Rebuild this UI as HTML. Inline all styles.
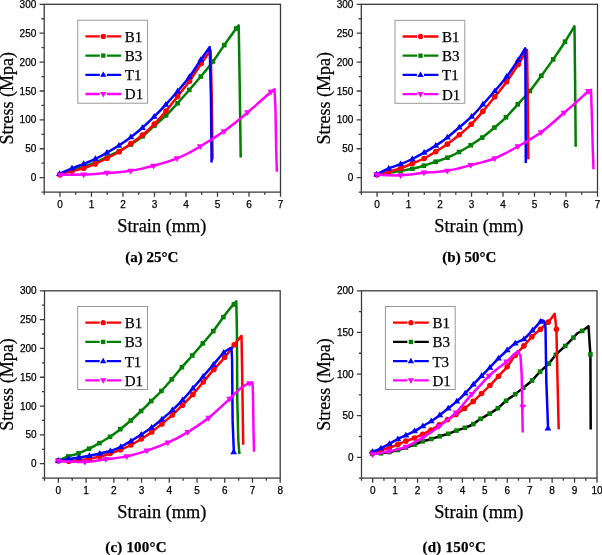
<!DOCTYPE html>
<html><head><meta charset="utf-8"><style>
html,body{margin:0;padding:0;background:#fff;}
svg{display:block;will-change:transform;}
text{stroke:#000;stroke-width:0.25px;}
</style></head><body>
<svg width="602" height="555" viewBox="0 0 602 555">
<rect width="602" height="555" fill="#fff"/>
<rect x="44.2" y="4.3" width="236.30" height="187.80" fill="none" stroke="#3c3c3c" stroke-width="1.3"/>
<path d="M44.20 192.10v2.6 M59.95 192.10v4.6 M75.71 192.10v2.6 M91.46 192.10v4.6 M107.21 192.10v2.6 M122.97 192.10v4.6 M138.72 192.10v2.6 M154.47 192.10v4.6 M170.23 192.10v2.6 M185.98 192.10v4.6 M201.73 192.10v2.6 M217.49 192.10v4.6 M233.24 192.10v2.6 M248.99 192.10v4.6 M264.75 192.10v2.6 M280.50 192.10v4.6 M44.20 192.10h-2.6 M44.20 177.65h-4.6 M44.20 163.21h-2.6 M44.20 148.76h-4.6 M44.20 134.32h-2.6 M44.20 119.87h-4.6 M44.20 105.42h-2.6 M44.20 90.98h-4.6 M44.20 76.53h-2.6 M44.20 62.08h-4.6 M44.20 47.64h-2.6 M44.20 33.19h-4.6 M44.20 18.75h-2.6 M44.20 4.30h-4.6" stroke="#3c3c3c" stroke-width="1.3" fill="none"/>
<text x="59.95" y="207.70" font-family='"Liberation Sans", sans-serif' font-size="10" text-anchor="middle">0</text>
<text x="91.46" y="207.70" font-family='"Liberation Sans", sans-serif' font-size="10" text-anchor="middle">1</text>
<text x="122.97" y="207.70" font-family='"Liberation Sans", sans-serif' font-size="10" text-anchor="middle">2</text>
<text x="154.47" y="207.70" font-family='"Liberation Sans", sans-serif' font-size="10" text-anchor="middle">3</text>
<text x="185.98" y="207.70" font-family='"Liberation Sans", sans-serif' font-size="10" text-anchor="middle">4</text>
<text x="217.49" y="207.70" font-family='"Liberation Sans", sans-serif' font-size="10" text-anchor="middle">5</text>
<text x="248.99" y="207.70" font-family='"Liberation Sans", sans-serif' font-size="10" text-anchor="middle">6</text>
<text x="280.50" y="207.70" font-family='"Liberation Sans", sans-serif' font-size="10" text-anchor="middle">7</text>
<text x="36.30" y="181.25" font-family='"Liberation Sans", sans-serif' font-size="10" text-anchor="end">0</text>
<text x="36.30" y="152.36" font-family='"Liberation Sans", sans-serif' font-size="10" text-anchor="end">50</text>
<text x="36.30" y="123.47" font-family='"Liberation Sans", sans-serif' font-size="10" text-anchor="end">100</text>
<text x="36.30" y="94.58" font-family='"Liberation Sans", sans-serif' font-size="10" text-anchor="end">150</text>
<text x="36.30" y="65.68" font-family='"Liberation Sans", sans-serif' font-size="10" text-anchor="end">200</text>
<text x="36.30" y="36.79" font-family='"Liberation Sans", sans-serif' font-size="10" text-anchor="end">250</text>
<text x="36.30" y="7.90" font-family='"Liberation Sans", sans-serif' font-size="10" text-anchor="end">300</text>
<rect x="361.3" y="4.3" width="236.20" height="187.80" fill="none" stroke="#3c3c3c" stroke-width="1.3"/>
<path d="M361.30 192.10v2.6 M377.05 192.10v4.6 M392.79 192.10v2.6 M408.54 192.10v4.6 M424.29 192.10v2.6 M440.03 192.10v4.6 M455.78 192.10v2.6 M471.53 192.10v4.6 M487.27 192.10v2.6 M503.02 192.10v4.6 M518.77 192.10v2.6 M534.51 192.10v4.6 M550.26 192.10v2.6 M566.01 192.10v4.6 M581.75 192.10v2.6 M597.50 192.10v4.6 M361.30 192.10h-2.6 M361.30 177.65h-4.6 M361.30 163.21h-2.6 M361.30 148.76h-4.6 M361.30 134.32h-2.6 M361.30 119.87h-4.6 M361.30 105.42h-2.6 M361.30 90.98h-4.6 M361.30 76.53h-2.6 M361.30 62.08h-4.6 M361.30 47.64h-2.6 M361.30 33.19h-4.6 M361.30 18.75h-2.6 M361.30 4.30h-4.6" stroke="#3c3c3c" stroke-width="1.3" fill="none"/>
<text x="377.05" y="207.70" font-family='"Liberation Sans", sans-serif' font-size="10" text-anchor="middle">0</text>
<text x="408.54" y="207.70" font-family='"Liberation Sans", sans-serif' font-size="10" text-anchor="middle">1</text>
<text x="440.03" y="207.70" font-family='"Liberation Sans", sans-serif' font-size="10" text-anchor="middle">2</text>
<text x="471.53" y="207.70" font-family='"Liberation Sans", sans-serif' font-size="10" text-anchor="middle">3</text>
<text x="503.02" y="207.70" font-family='"Liberation Sans", sans-serif' font-size="10" text-anchor="middle">4</text>
<text x="534.51" y="207.70" font-family='"Liberation Sans", sans-serif' font-size="10" text-anchor="middle">5</text>
<text x="566.01" y="207.70" font-family='"Liberation Sans", sans-serif' font-size="10" text-anchor="middle">6</text>
<text x="597.50" y="207.70" font-family='"Liberation Sans", sans-serif' font-size="10" text-anchor="middle">7</text>
<text x="353.40" y="181.25" font-family='"Liberation Sans", sans-serif' font-size="10" text-anchor="end">0</text>
<text x="353.40" y="152.36" font-family='"Liberation Sans", sans-serif' font-size="10" text-anchor="end">50</text>
<text x="353.40" y="123.47" font-family='"Liberation Sans", sans-serif' font-size="10" text-anchor="end">100</text>
<text x="353.40" y="94.58" font-family='"Liberation Sans", sans-serif' font-size="10" text-anchor="end">150</text>
<text x="353.40" y="65.68" font-family='"Liberation Sans", sans-serif' font-size="10" text-anchor="end">200</text>
<text x="353.40" y="36.79" font-family='"Liberation Sans", sans-serif' font-size="10" text-anchor="end">250</text>
<text x="353.40" y="7.90" font-family='"Liberation Sans", sans-serif' font-size="10" text-anchor="end">300</text>
<rect x="44.5" y="290.8" width="235.70" height="187.30" fill="none" stroke="#3c3c3c" stroke-width="1.3"/>
<path d="M44.50 478.10v2.6 M58.36 478.10v4.6 M72.23 478.10v2.6 M86.09 478.10v4.6 M99.96 478.10v2.6 M113.82 478.10v4.6 M127.69 478.10v2.6 M141.55 478.10v4.6 M155.42 478.10v2.6 M169.28 478.10v4.6 M183.15 478.10v2.6 M197.01 478.10v4.6 M210.88 478.10v2.6 M224.74 478.10v4.6 M238.61 478.10v2.6 M252.47 478.10v4.6 M266.34 478.10v2.6 M280.20 478.10v4.6 M44.50 478.10h-2.6 M44.50 463.69h-4.6 M44.50 449.28h-2.6 M44.50 434.88h-4.6 M44.50 420.47h-2.6 M44.50 406.06h-4.6 M44.50 391.65h-2.6 M44.50 377.25h-4.6 M44.50 362.84h-2.6 M44.50 348.43h-4.6 M44.50 334.02h-2.6 M44.50 319.62h-4.6 M44.50 305.21h-2.6 M44.50 290.80h-4.6" stroke="#3c3c3c" stroke-width="1.3" fill="none"/>
<text x="58.36" y="493.70" font-family='"Liberation Sans", sans-serif' font-size="10" text-anchor="middle">0</text>
<text x="86.09" y="493.70" font-family='"Liberation Sans", sans-serif' font-size="10" text-anchor="middle">1</text>
<text x="113.82" y="493.70" font-family='"Liberation Sans", sans-serif' font-size="10" text-anchor="middle">2</text>
<text x="141.55" y="493.70" font-family='"Liberation Sans", sans-serif' font-size="10" text-anchor="middle">3</text>
<text x="169.28" y="493.70" font-family='"Liberation Sans", sans-serif' font-size="10" text-anchor="middle">4</text>
<text x="197.01" y="493.70" font-family='"Liberation Sans", sans-serif' font-size="10" text-anchor="middle">5</text>
<text x="224.74" y="493.70" font-family='"Liberation Sans", sans-serif' font-size="10" text-anchor="middle">6</text>
<text x="252.47" y="493.70" font-family='"Liberation Sans", sans-serif' font-size="10" text-anchor="middle">7</text>
<text x="280.20" y="493.70" font-family='"Liberation Sans", sans-serif' font-size="10" text-anchor="middle">8</text>
<text x="36.60" y="467.29" font-family='"Liberation Sans", sans-serif' font-size="10" text-anchor="end">0</text>
<text x="36.60" y="438.48" font-family='"Liberation Sans", sans-serif' font-size="10" text-anchor="end">50</text>
<text x="36.60" y="409.66" font-family='"Liberation Sans", sans-serif' font-size="10" text-anchor="end">100</text>
<text x="36.60" y="380.85" font-family='"Liberation Sans", sans-serif' font-size="10" text-anchor="end">150</text>
<text x="36.60" y="352.03" font-family='"Liberation Sans", sans-serif' font-size="10" text-anchor="end">200</text>
<text x="36.60" y="323.22" font-family='"Liberation Sans", sans-serif' font-size="10" text-anchor="end">250</text>
<text x="36.60" y="294.40" font-family='"Liberation Sans", sans-serif' font-size="10" text-anchor="end">300</text>
<rect x="361.5" y="290.8" width="235.50" height="187.30" fill="none" stroke="#3c3c3c" stroke-width="1.3"/>
<path d="M361.50 478.10v2.6 M372.71 478.10v4.6 M383.93 478.10v2.6 M395.14 478.10v4.6 M406.36 478.10v2.6 M417.57 478.10v4.6 M428.79 478.10v2.6 M440.00 478.10v4.6 M451.21 478.10v2.6 M462.43 478.10v4.6 M473.64 478.10v2.6 M484.86 478.10v4.6 M496.07 478.10v2.6 M507.29 478.10v4.6 M518.50 478.10v2.6 M529.71 478.10v4.6 M540.93 478.10v2.6 M552.14 478.10v4.6 M563.36 478.10v2.6 M574.57 478.10v4.6 M585.79 478.10v2.6 M597.00 478.10v4.6 M361.50 478.10h-2.6 M361.50 457.29h-4.6 M361.50 436.48h-2.6 M361.50 415.67h-4.6 M361.50 394.86h-2.6 M361.50 374.04h-4.6 M361.50 353.23h-2.6 M361.50 332.42h-4.6 M361.50 311.61h-2.6 M361.50 290.80h-4.6" stroke="#3c3c3c" stroke-width="1.3" fill="none"/>
<text x="372.71" y="493.70" font-family='"Liberation Sans", sans-serif' font-size="10" text-anchor="middle">0</text>
<text x="395.14" y="493.70" font-family='"Liberation Sans", sans-serif' font-size="10" text-anchor="middle">1</text>
<text x="417.57" y="493.70" font-family='"Liberation Sans", sans-serif' font-size="10" text-anchor="middle">2</text>
<text x="440.00" y="493.70" font-family='"Liberation Sans", sans-serif' font-size="10" text-anchor="middle">3</text>
<text x="462.43" y="493.70" font-family='"Liberation Sans", sans-serif' font-size="10" text-anchor="middle">4</text>
<text x="484.86" y="493.70" font-family='"Liberation Sans", sans-serif' font-size="10" text-anchor="middle">5</text>
<text x="507.29" y="493.70" font-family='"Liberation Sans", sans-serif' font-size="10" text-anchor="middle">6</text>
<text x="529.71" y="493.70" font-family='"Liberation Sans", sans-serif' font-size="10" text-anchor="middle">7</text>
<text x="552.14" y="493.70" font-family='"Liberation Sans", sans-serif' font-size="10" text-anchor="middle">8</text>
<text x="574.57" y="493.70" font-family='"Liberation Sans", sans-serif' font-size="10" text-anchor="middle">9</text>
<text x="597.00" y="493.70" font-family='"Liberation Sans", sans-serif' font-size="10" text-anchor="middle">10</text>
<text x="353.60" y="460.89" font-family='"Liberation Sans", sans-serif' font-size="10" text-anchor="end">0</text>
<text x="353.60" y="419.27" font-family='"Liberation Sans", sans-serif' font-size="10" text-anchor="end">50</text>
<text x="353.60" y="377.64" font-family='"Liberation Sans", sans-serif' font-size="10" text-anchor="end">100</text>
<text x="353.60" y="336.02" font-family='"Liberation Sans", sans-serif' font-size="10" text-anchor="end">150</text>
<text x="353.60" y="294.40" font-family='"Liberation Sans", sans-serif' font-size="10" text-anchor="end">200</text>
<path d="M60.00 174.30C62.00 173.63 68.05 171.57 72.00 170.30C75.95 169.03 79.80 168.03 83.70 166.70C87.60 165.37 91.52 163.92 95.40 162.30C99.28 160.68 103.07 158.85 107.00 157.00C110.93 155.15 115.02 153.28 119.00 151.20C122.98 149.12 126.97 146.98 130.90 144.50C134.83 142.02 138.68 139.45 142.60 136.30C146.52 133.15 150.48 129.08 154.40 125.60C158.32 122.12 162.23 119.13 166.10 115.40C169.97 111.67 173.73 107.45 177.60 103.20C181.47 98.95 185.43 94.35 189.30 89.90C193.17 85.45 196.85 81.23 200.80 76.50C204.75 71.77 209.08 66.73 213.00 61.50C216.92 56.27 220.43 50.58 224.30 45.10C228.17 39.62 233.80 31.88 236.20 28.60C238.60 25.32 238.28 25.93 238.70 25.40L239.80 90.00L240.70 157.40" fill="none" stroke="#008000" stroke-width="2.5" stroke-linejoin="round" stroke-linecap="butt"/>
<rect x="57.70" y="172.00" width="4.60" height="4.60" fill="#008000"/>
<rect x="69.70" y="168.00" width="4.60" height="4.60" fill="#008000"/>
<rect x="81.40" y="164.40" width="4.60" height="4.60" fill="#008000"/>
<rect x="93.10" y="160.00" width="4.60" height="4.60" fill="#008000"/>
<rect x="104.70" y="154.70" width="4.60" height="4.60" fill="#008000"/>
<rect x="116.70" y="148.90" width="4.60" height="4.60" fill="#008000"/>
<rect x="128.60" y="142.20" width="4.60" height="4.60" fill="#008000"/>
<rect x="140.30" y="134.00" width="4.60" height="4.60" fill="#008000"/>
<rect x="152.10" y="123.30" width="4.60" height="4.60" fill="#008000"/>
<rect x="163.80" y="113.10" width="4.60" height="4.60" fill="#008000"/>
<rect x="175.30" y="100.90" width="4.60" height="4.60" fill="#008000"/>
<rect x="187.00" y="87.60" width="4.60" height="4.60" fill="#008000"/>
<rect x="198.50" y="74.20" width="4.60" height="4.60" fill="#008000"/>
<rect x="210.70" y="59.20" width="4.60" height="4.60" fill="#008000"/>
<rect x="222.00" y="42.80" width="4.60" height="4.60" fill="#008000"/>
<rect x="233.90" y="26.30" width="4.60" height="4.60" fill="#008000"/>
<path d="M60.00 174.70C62.00 174.10 68.05 172.18 72.00 171.10C75.95 170.02 79.80 169.40 83.70 168.20C87.60 167.00 91.52 165.57 95.40 163.90C99.28 162.23 103.03 160.23 107.00 158.20C110.97 156.17 115.22 154.13 119.20 151.70C123.18 149.27 127.02 146.38 130.90 143.60C134.78 140.82 138.60 138.25 142.50 135.00C146.40 131.75 150.38 128.08 154.30 124.10C158.22 120.12 162.12 115.72 166.00 111.10C169.88 106.48 173.67 101.40 177.60 96.40C181.53 91.40 185.65 86.58 189.60 81.10C193.55 75.62 197.78 68.60 201.30 63.50C204.82 58.40 209.13 52.67 210.70 50.50L211.80 100.00L212.60 159.50" fill="none" stroke="#ff0000" stroke-width="2.5" stroke-linejoin="round" stroke-linecap="butt"/>
<circle cx="60.00" cy="174.70" r="2.80" fill="#ff0000"/>
<circle cx="72.00" cy="171.10" r="2.80" fill="#ff0000"/>
<circle cx="83.70" cy="168.20" r="2.80" fill="#ff0000"/>
<circle cx="95.40" cy="163.90" r="2.80" fill="#ff0000"/>
<circle cx="107.00" cy="158.20" r="2.80" fill="#ff0000"/>
<circle cx="119.20" cy="151.70" r="2.80" fill="#ff0000"/>
<circle cx="130.90" cy="143.60" r="2.80" fill="#ff0000"/>
<circle cx="142.50" cy="135.00" r="2.80" fill="#ff0000"/>
<circle cx="154.30" cy="124.10" r="2.80" fill="#ff0000"/>
<circle cx="166.00" cy="111.10" r="2.80" fill="#ff0000"/>
<circle cx="177.60" cy="96.40" r="2.80" fill="#ff0000"/>
<circle cx="189.60" cy="81.10" r="2.80" fill="#ff0000"/>
<circle cx="201.30" cy="63.50" r="2.80" fill="#ff0000"/>
<path d="M59.50 173.90C61.58 172.98 67.97 170.07 72.00 168.40C76.03 166.73 79.80 165.48 83.70 163.90C87.60 162.32 91.52 160.78 95.40 158.90C99.28 157.02 103.08 154.83 107.00 152.60C110.92 150.37 114.93 148.07 118.90 145.50C122.87 142.93 126.88 140.15 130.80 137.20C134.72 134.25 138.50 131.22 142.40 127.80C146.30 124.38 150.30 120.55 154.20 116.70C158.10 112.85 161.90 108.93 165.80 104.70C169.70 100.47 173.65 95.95 177.60 91.30C181.55 86.65 185.63 82.05 189.50 76.80C193.37 71.55 197.43 64.77 200.80 59.80C204.17 54.83 208.22 49.13 209.70 47.00L211.00 100.00L211.60 162.40" fill="none" stroke="#0000ff" stroke-width="2.5" stroke-linejoin="round" stroke-linecap="butt"/>
<path d="M59.50 170.30L62.92 176.06L56.08 176.06Z" fill="#0000ff"/>
<path d="M72.00 164.80L75.42 170.56L68.58 170.56Z" fill="#0000ff"/>
<path d="M83.70 160.30L87.12 166.06L80.28 166.06Z" fill="#0000ff"/>
<path d="M95.40 155.30L98.82 161.06L91.98 161.06Z" fill="#0000ff"/>
<path d="M107.00 149.00L110.42 154.76L103.58 154.76Z" fill="#0000ff"/>
<path d="M118.90 141.90L122.32 147.66L115.48 147.66Z" fill="#0000ff"/>
<path d="M130.80 133.60L134.22 139.36L127.38 139.36Z" fill="#0000ff"/>
<path d="M142.40 124.20L145.82 129.96L138.98 129.96Z" fill="#0000ff"/>
<path d="M154.20 113.10L157.62 118.86L150.78 118.86Z" fill="#0000ff"/>
<path d="M165.80 101.10L169.22 106.86L162.38 106.86Z" fill="#0000ff"/>
<path d="M177.60 87.70L181.02 93.46L174.18 93.46Z" fill="#0000ff"/>
<path d="M189.50 73.20L192.92 78.96L186.08 78.96Z" fill="#0000ff"/>
<path d="M200.80 56.20L204.22 61.96L197.38 61.96Z" fill="#0000ff"/>
<path d="M60.00 174.80C62.00 174.80 68.05 174.83 72.00 174.80C75.95 174.77 79.80 174.75 83.70 174.60C87.60 174.45 91.52 174.17 95.40 173.90C99.28 173.63 103.10 173.28 107.00 173.00C110.90 172.72 114.85 172.57 118.80 172.20C122.75 171.83 126.80 171.40 130.70 170.80C134.60 170.20 138.38 169.43 142.20 168.60C146.02 167.77 149.72 166.83 153.60 165.80C157.48 164.77 161.60 163.65 165.50 162.40C169.40 161.15 173.12 159.87 177.00 158.30C180.88 156.73 184.92 155.00 188.80 153.00C192.68 151.00 196.40 148.63 200.30 146.30C204.20 143.97 208.25 141.50 212.20 139.00C216.15 136.50 220.07 134.08 224.00 131.30C227.93 128.52 231.88 125.43 235.80 122.30C239.72 119.17 243.60 115.83 247.50 112.50C251.40 109.17 255.30 105.72 259.20 102.30C263.10 98.88 268.35 94.17 270.90 92.00C273.45 89.83 273.90 89.75 274.50 89.30L275.50 110.00L276.20 150.00L276.90 171.80" fill="none" stroke="#ff00ff" stroke-width="2.5" stroke-linejoin="round" stroke-linecap="butt"/>
<path d="M60.00 178.40L63.42 172.64L56.58 172.64Z" fill="#ff00ff"/>
<path d="M83.70 178.20L87.12 172.44L80.28 172.44Z" fill="#ff00ff"/>
<path d="M107.00 176.60L110.42 170.84L103.58 170.84Z" fill="#ff00ff"/>
<path d="M130.70 174.40L134.12 168.64L127.28 168.64Z" fill="#ff00ff"/>
<path d="M153.60 169.40L157.02 163.64L150.18 163.64Z" fill="#ff00ff"/>
<path d="M177.00 161.90L180.42 156.14L173.58 156.14Z" fill="#ff00ff"/>
<path d="M200.30 149.90L203.72 144.14L196.88 144.14Z" fill="#ff00ff"/>
<path d="M224.00 134.90L227.42 129.14L220.58 129.14Z" fill="#ff00ff"/>
<path d="M247.50 116.10L250.92 110.34L244.08 110.34Z" fill="#ff00ff"/>
<path d="M270.90 95.60L274.32 89.84L267.48 89.84Z" fill="#ff00ff"/>
<path d="M376.70 174.50C378.70 174.25 384.72 173.58 388.70 173.00C392.68 172.42 396.67 171.70 400.60 171.00C404.53 170.30 408.42 169.68 412.30 168.80C416.18 167.92 419.98 166.88 423.90 165.70C427.82 164.52 431.88 163.03 435.80 161.70C439.72 160.37 443.53 159.32 447.40 157.70C451.27 156.08 455.12 154.08 459.00 152.00C462.88 149.92 466.83 147.60 470.70 145.20C474.57 142.80 478.25 140.53 482.20 137.60C486.15 134.67 490.43 130.98 494.40 127.60C498.37 124.22 502.10 121.18 506.00 117.30C509.90 113.42 513.82 108.68 517.80 104.30C521.78 99.92 525.98 95.75 529.90 91.00C533.82 86.25 537.42 81.07 541.30 75.80C545.18 70.53 549.25 65.08 553.20 59.40C557.15 53.72 561.45 47.23 565.00 41.70C568.55 36.17 572.92 28.78 574.50 26.20L575.20 90.00L575.70 146.70" fill="none" stroke="#008000" stroke-width="2.5" stroke-linejoin="round" stroke-linecap="butt"/>
<rect x="374.40" y="172.20" width="4.60" height="4.60" fill="#008000"/>
<rect x="386.40" y="170.70" width="4.60" height="4.60" fill="#008000"/>
<rect x="398.30" y="168.70" width="4.60" height="4.60" fill="#008000"/>
<rect x="410.00" y="166.50" width="4.60" height="4.60" fill="#008000"/>
<rect x="421.60" y="163.40" width="4.60" height="4.60" fill="#008000"/>
<rect x="433.50" y="159.40" width="4.60" height="4.60" fill="#008000"/>
<rect x="445.10" y="155.40" width="4.60" height="4.60" fill="#008000"/>
<rect x="456.70" y="149.70" width="4.60" height="4.60" fill="#008000"/>
<rect x="468.40" y="142.90" width="4.60" height="4.60" fill="#008000"/>
<rect x="479.90" y="135.30" width="4.60" height="4.60" fill="#008000"/>
<rect x="492.10" y="125.30" width="4.60" height="4.60" fill="#008000"/>
<rect x="503.70" y="115.00" width="4.60" height="4.60" fill="#008000"/>
<rect x="515.50" y="102.00" width="4.60" height="4.60" fill="#008000"/>
<rect x="527.60" y="88.70" width="4.60" height="4.60" fill="#008000"/>
<rect x="539.00" y="73.50" width="4.60" height="4.60" fill="#008000"/>
<rect x="550.90" y="57.10" width="4.60" height="4.60" fill="#008000"/>
<rect x="562.70" y="39.40" width="4.60" height="4.60" fill="#008000"/>
<path d="M376.70 174.70C378.70 174.20 384.72 172.77 388.70 171.70C392.68 170.63 396.67 169.67 400.60 168.30C404.53 166.93 408.38 165.13 412.30 163.50C416.22 161.87 420.18 160.48 424.10 158.50C428.02 156.52 431.92 154.00 435.80 151.60C439.68 149.20 443.47 146.90 447.40 144.10C451.33 141.30 455.43 138.10 459.40 134.80C463.37 131.50 467.28 128.22 471.20 124.30C475.12 120.38 478.97 115.88 482.90 111.30C486.83 106.72 490.83 101.73 494.80 96.80C498.77 91.87 502.80 87.10 506.70 81.70C510.60 76.30 514.82 69.68 518.20 64.40C521.58 59.12 525.53 52.40 527.00 50.00L527.80 100.00L528.30 159.30" fill="none" stroke="#ff0000" stroke-width="2.5" stroke-linejoin="round" stroke-linecap="butt"/>
<circle cx="376.70" cy="174.70" r="2.80" fill="#ff0000"/>
<circle cx="388.70" cy="171.70" r="2.80" fill="#ff0000"/>
<circle cx="400.60" cy="168.30" r="2.80" fill="#ff0000"/>
<circle cx="412.30" cy="163.50" r="2.80" fill="#ff0000"/>
<circle cx="424.10" cy="158.50" r="2.80" fill="#ff0000"/>
<circle cx="435.80" cy="151.60" r="2.80" fill="#ff0000"/>
<circle cx="447.40" cy="144.10" r="2.80" fill="#ff0000"/>
<circle cx="459.40" cy="134.80" r="2.80" fill="#ff0000"/>
<circle cx="471.20" cy="124.30" r="2.80" fill="#ff0000"/>
<circle cx="482.90" cy="111.30" r="2.80" fill="#ff0000"/>
<circle cx="494.80" cy="96.80" r="2.80" fill="#ff0000"/>
<circle cx="506.70" cy="81.70" r="2.80" fill="#ff0000"/>
<circle cx="518.20" cy="64.40" r="2.80" fill="#ff0000"/>
<path d="M376.70 174.30C378.70 173.33 384.72 170.18 388.70 168.50C392.68 166.82 396.67 165.78 400.60 164.20C404.53 162.62 408.38 160.92 412.30 159.00C416.22 157.08 420.18 154.93 424.10 152.70C428.02 150.47 431.92 148.15 435.80 145.60C439.68 143.05 443.48 140.43 447.40 137.40C451.32 134.37 455.27 130.85 459.30 127.40C463.33 123.95 467.67 120.53 471.60 116.70C475.53 112.87 479.03 108.68 482.90 104.40C486.77 100.12 490.83 95.62 494.80 91.00C498.77 86.38 502.80 81.87 506.70 76.70C510.60 71.53 515.10 64.75 518.20 60.00C521.30 55.25 524.12 50.17 525.30 48.20L525.60 100.00L525.80 162.90" fill="none" stroke="#0000ff" stroke-width="2.5" stroke-linejoin="round" stroke-linecap="butt"/>
<path d="M376.70 170.70L380.12 176.46L373.28 176.46Z" fill="#0000ff"/>
<path d="M388.70 164.90L392.12 170.66L385.28 170.66Z" fill="#0000ff"/>
<path d="M400.60 160.60L404.02 166.36L397.18 166.36Z" fill="#0000ff"/>
<path d="M412.30 155.40L415.72 161.16L408.88 161.16Z" fill="#0000ff"/>
<path d="M424.10 149.10L427.52 154.86L420.68 154.86Z" fill="#0000ff"/>
<path d="M435.80 142.00L439.22 147.76L432.38 147.76Z" fill="#0000ff"/>
<path d="M447.40 133.80L450.82 139.56L443.98 139.56Z" fill="#0000ff"/>
<path d="M459.30 123.80L462.72 129.56L455.88 129.56Z" fill="#0000ff"/>
<path d="M471.60 113.10L475.02 118.86L468.18 118.86Z" fill="#0000ff"/>
<path d="M482.90 100.80L486.32 106.56L479.48 106.56Z" fill="#0000ff"/>
<path d="M494.80 87.40L498.22 93.16L491.38 93.16Z" fill="#0000ff"/>
<path d="M506.70 73.10L510.12 78.86L503.28 78.86Z" fill="#0000ff"/>
<path d="M518.20 56.40L521.62 62.16L514.78 62.16Z" fill="#0000ff"/>
<path d="M376.70 174.70C378.70 174.80 384.72 175.20 388.70 175.30C392.68 175.40 396.67 175.48 400.60 175.30C404.53 175.12 408.42 174.63 412.30 174.20C416.18 173.77 420.02 173.08 423.90 172.70C427.78 172.32 431.68 172.22 435.60 171.90C439.52 171.58 443.50 171.40 447.40 170.80C451.30 170.20 455.12 169.23 459.00 168.30C462.88 167.37 466.75 166.23 470.70 165.20C474.65 164.17 478.68 163.22 482.70 162.10C486.72 160.98 490.87 160.05 494.80 158.50C498.73 156.95 502.45 154.80 506.30 152.80C510.15 150.80 514.03 148.68 517.90 146.50C521.77 144.32 525.63 142.07 529.50 139.70C533.37 137.33 537.27 135.08 541.10 132.30C544.93 129.52 548.68 126.25 552.50 123.00C556.32 119.75 560.08 116.22 564.00 112.80C567.92 109.38 571.95 106.10 576.00 102.50C580.05 98.90 585.80 93.30 588.30 91.20C590.80 89.10 590.55 90.12 591.00 89.90L592.00 120.00L592.80 150.00L593.50 169.20" fill="none" stroke="#ff00ff" stroke-width="2.5" stroke-linejoin="round" stroke-linecap="butt"/>
<path d="M376.70 178.30L380.12 172.54L373.28 172.54Z" fill="#ff00ff"/>
<path d="M400.60 178.90L404.02 173.14L397.18 173.14Z" fill="#ff00ff"/>
<path d="M423.90 176.30L427.32 170.54L420.48 170.54Z" fill="#ff00ff"/>
<path d="M447.40 174.40L450.82 168.64L443.98 168.64Z" fill="#ff00ff"/>
<path d="M470.70 168.80L474.12 163.04L467.28 163.04Z" fill="#ff00ff"/>
<path d="M494.80 162.10L498.22 156.34L491.38 156.34Z" fill="#ff00ff"/>
<path d="M517.90 150.10L521.32 144.34L514.48 144.34Z" fill="#ff00ff"/>
<path d="M541.10 135.90L544.52 130.14L537.68 130.14Z" fill="#ff00ff"/>
<path d="M564.00 116.40L567.42 110.64L560.58 110.64Z" fill="#ff00ff"/>
<path d="M588.30 94.80L591.72 89.04L584.88 89.04Z" fill="#ff00ff"/>
<path d="M58.30 460.50C59.95 459.82 64.82 457.60 68.20 456.40C71.58 455.20 75.12 454.58 78.60 453.30C82.08 452.02 85.62 450.40 89.10 448.70C92.58 447.00 96.02 445.08 99.50 443.10C102.98 441.12 106.53 439.12 110.00 436.80C113.47 434.48 116.83 431.92 120.30 429.20C123.77 426.48 127.33 423.53 130.80 420.50C134.27 417.47 137.70 414.25 141.10 411.00C144.50 407.75 147.82 404.33 151.20 401.00C154.58 397.67 157.97 394.62 161.40 391.00C164.83 387.38 168.38 383.27 171.80 379.30C175.22 375.33 178.48 371.17 181.90 367.20C185.32 363.23 188.82 359.47 192.30 355.50C195.78 351.53 199.30 347.47 202.80 343.40C206.30 339.33 209.87 335.48 213.30 331.10C216.73 326.72 220.57 320.95 223.40 317.10C226.23 313.25 228.55 310.12 230.30 308.00C232.05 305.88 232.90 305.53 233.90 304.40C234.90 303.27 235.90 301.73 236.30 301.20L236.90 330.00L237.30 400.00L238.30 440.00L239.40 454.20" fill="none" stroke="#008000" stroke-width="2.5" stroke-linejoin="round" stroke-linecap="butt"/>
<rect x="56.00" y="458.20" width="4.60" height="4.60" fill="#008000"/>
<rect x="65.90" y="454.10" width="4.60" height="4.60" fill="#008000"/>
<rect x="76.30" y="451.00" width="4.60" height="4.60" fill="#008000"/>
<rect x="86.80" y="446.40" width="4.60" height="4.60" fill="#008000"/>
<rect x="97.20" y="440.80" width="4.60" height="4.60" fill="#008000"/>
<rect x="107.70" y="434.50" width="4.60" height="4.60" fill="#008000"/>
<rect x="118.00" y="426.90" width="4.60" height="4.60" fill="#008000"/>
<rect x="128.50" y="418.20" width="4.60" height="4.60" fill="#008000"/>
<rect x="138.80" y="408.70" width="4.60" height="4.60" fill="#008000"/>
<rect x="148.90" y="398.70" width="4.60" height="4.60" fill="#008000"/>
<rect x="159.10" y="388.70" width="4.60" height="4.60" fill="#008000"/>
<rect x="169.50" y="377.00" width="4.60" height="4.60" fill="#008000"/>
<rect x="179.60" y="364.90" width="4.60" height="4.60" fill="#008000"/>
<rect x="190.00" y="353.20" width="4.60" height="4.60" fill="#008000"/>
<rect x="200.50" y="341.10" width="4.60" height="4.60" fill="#008000"/>
<rect x="211.00" y="328.80" width="4.60" height="4.60" fill="#008000"/>
<rect x="221.10" y="314.80" width="4.60" height="4.60" fill="#008000"/>
<rect x="231.60" y="302.10" width="4.60" height="4.60" fill="#008000"/>
<path d="M58.30 461.00C60.05 461.05 65.37 461.42 68.80 461.30C72.23 461.18 75.47 460.72 78.90 460.30C82.33 459.88 85.92 459.43 89.40 458.80C92.88 458.17 96.35 457.38 99.80 456.50C103.25 455.62 106.65 454.62 110.10 453.50C113.55 452.38 117.03 451.22 120.50 449.80C123.97 448.38 127.43 446.80 130.90 445.00C134.37 443.20 137.83 441.18 141.30 439.00C144.77 436.82 148.27 434.42 151.70 431.90C155.13 429.38 158.45 426.73 161.90 423.90C165.35 421.07 168.97 418.02 172.40 414.90C175.83 411.78 179.08 408.62 182.50 405.20C185.92 401.78 189.43 398.27 192.90 394.40C196.37 390.53 199.80 386.17 203.30 382.00C206.80 377.83 210.35 373.48 213.90 369.40C217.45 365.32 221.22 361.60 224.60 357.50C227.98 353.40 231.38 348.42 234.20 344.80C237.02 341.18 240.28 337.30 241.50 335.80L242.30 380.00L243.20 444.80" fill="none" stroke="#ff0000" stroke-width="2.5" stroke-linejoin="round" stroke-linecap="butt"/>
<circle cx="58.30" cy="461.00" r="2.80" fill="#ff0000"/>
<circle cx="68.80" cy="461.30" r="2.80" fill="#ff0000"/>
<circle cx="78.90" cy="460.30" r="2.80" fill="#ff0000"/>
<circle cx="89.40" cy="458.80" r="2.80" fill="#ff0000"/>
<circle cx="99.80" cy="456.50" r="2.80" fill="#ff0000"/>
<circle cx="110.10" cy="453.50" r="2.80" fill="#ff0000"/>
<circle cx="120.50" cy="449.80" r="2.80" fill="#ff0000"/>
<circle cx="130.90" cy="445.00" r="2.80" fill="#ff0000"/>
<circle cx="141.30" cy="439.00" r="2.80" fill="#ff0000"/>
<circle cx="151.70" cy="431.90" r="2.80" fill="#ff0000"/>
<circle cx="161.90" cy="423.90" r="2.80" fill="#ff0000"/>
<circle cx="172.40" cy="414.90" r="2.80" fill="#ff0000"/>
<circle cx="182.50" cy="405.20" r="2.80" fill="#ff0000"/>
<circle cx="192.90" cy="394.40" r="2.80" fill="#ff0000"/>
<circle cx="203.30" cy="382.00" r="2.80" fill="#ff0000"/>
<circle cx="213.90" cy="369.40" r="2.80" fill="#ff0000"/>
<circle cx="224.60" cy="357.50" r="2.80" fill="#ff0000"/>
<circle cx="234.20" cy="344.80" r="2.80" fill="#ff0000"/>
<path d="M58.30 460.60C60.00 460.37 65.07 459.72 68.50 459.20C71.93 458.68 75.42 458.07 78.90 457.50C82.38 456.93 85.92 456.47 89.40 455.80C92.88 455.13 96.32 454.30 99.80 453.50C103.28 452.70 106.80 452.12 110.30 451.00C113.80 449.88 117.35 448.47 120.80 446.80C124.25 445.13 127.58 443.05 131.00 441.00C134.42 438.95 137.87 436.73 141.30 434.50C144.73 432.27 148.17 430.13 151.60 427.60C155.03 425.07 158.43 422.20 161.90 419.30C165.37 416.40 168.97 413.40 172.40 410.20C175.83 407.00 179.08 403.75 182.50 400.10C185.92 396.45 189.47 392.23 192.90 388.30C196.33 384.37 199.67 380.47 203.10 376.50C206.53 372.53 210.05 368.47 213.50 364.50C216.95 360.53 220.82 355.50 223.80 352.70C226.78 349.90 230.13 348.53 231.40 347.70L232.10 360.00L232.60 420.00L233.90 453.20" fill="none" stroke="#0000ff" stroke-width="2.5" stroke-linejoin="round" stroke-linecap="butt"/>
<path d="M58.30 457.00L61.72 462.76L54.88 462.76Z" fill="#0000ff"/>
<path d="M68.50 455.60L71.92 461.36L65.08 461.36Z" fill="#0000ff"/>
<path d="M78.90 453.90L82.32 459.66L75.48 459.66Z" fill="#0000ff"/>
<path d="M89.40 452.20L92.82 457.96L85.98 457.96Z" fill="#0000ff"/>
<path d="M99.80 449.90L103.22 455.66L96.38 455.66Z" fill="#0000ff"/>
<path d="M110.30 447.40L113.72 453.16L106.88 453.16Z" fill="#0000ff"/>
<path d="M120.80 443.20L124.22 448.96L117.38 448.96Z" fill="#0000ff"/>
<path d="M131.00 437.40L134.42 443.16L127.58 443.16Z" fill="#0000ff"/>
<path d="M141.30 430.90L144.72 436.66L137.88 436.66Z" fill="#0000ff"/>
<path d="M151.60 424.00L155.02 429.76L148.18 429.76Z" fill="#0000ff"/>
<path d="M161.90 415.70L165.32 421.46L158.48 421.46Z" fill="#0000ff"/>
<path d="M172.40 406.60L175.82 412.36L168.98 412.36Z" fill="#0000ff"/>
<path d="M182.50 396.50L185.92 402.26L179.08 402.26Z" fill="#0000ff"/>
<path d="M192.90 384.70L196.32 390.46L189.48 390.46Z" fill="#0000ff"/>
<path d="M203.10 372.90L206.52 378.66L199.68 378.66Z" fill="#0000ff"/>
<path d="M213.50 360.90L216.92 366.66L210.08 366.66Z" fill="#0000ff"/>
<path d="M223.80 349.10L227.22 354.86L220.38 354.86Z" fill="#0000ff"/>
<path d="M233.70 448.40L237.12 454.16L230.28 454.16Z" fill="#0000ff"/>
<path d="M58.30 461.00C62.73 461.17 76.98 462.30 84.90 462.00C92.82 461.70 98.83 460.13 105.80 459.20C112.77 458.27 119.83 457.83 126.70 456.40C133.57 454.97 140.13 452.88 147.00 450.60C153.87 448.32 161.10 445.78 167.90 442.70C174.70 439.62 181.00 436.25 187.80 432.10C194.60 427.95 201.73 423.35 208.70 417.80C215.67 412.25 224.38 403.63 229.60 398.80C234.82 393.97 237.18 391.22 240.00 388.80C242.82 386.38 244.42 385.30 246.50 384.30C248.58 383.30 251.50 383.05 252.50 382.80L253.00 395.00L253.50 430.00L254.00 451.80" fill="none" stroke="#ff00ff" stroke-width="2.5" stroke-linejoin="round" stroke-linecap="butt"/>
<path d="M58.30 464.60L61.72 458.84L54.88 458.84Z" fill="#ff00ff"/>
<path d="M84.90 465.60L88.32 459.84L81.48 459.84Z" fill="#ff00ff"/>
<path d="M105.80 462.80L109.22 457.04L102.38 457.04Z" fill="#ff00ff"/>
<path d="M126.70 460.00L130.12 454.24L123.28 454.24Z" fill="#ff00ff"/>
<path d="M147.00 454.20L150.42 448.44L143.58 448.44Z" fill="#ff00ff"/>
<path d="M167.90 446.30L171.32 440.54L164.48 440.54Z" fill="#ff00ff"/>
<path d="M187.80 435.70L191.22 429.94L184.38 429.94Z" fill="#ff00ff"/>
<path d="M208.70 421.40L212.12 415.64L205.28 415.64Z" fill="#ff00ff"/>
<path d="M229.60 402.40L233.02 396.64L226.18 396.64Z" fill="#ff00ff"/>
<path d="M249.50 386.90L252.92 381.14L246.08 381.14Z" fill="#ff00ff"/>
<path d="M372.30 453.80C373.75 453.72 378.15 453.60 381.00 453.30C383.85 453.00 386.58 452.55 389.40 452.00C392.22 451.45 395.15 450.73 397.90 450.00C400.65 449.27 403.12 448.50 405.90 447.60C408.68 446.70 411.80 445.65 414.60 444.60C417.40 443.55 419.93 442.23 422.70 441.30C425.47 440.37 428.35 439.83 431.20 439.00C434.05 438.17 436.97 437.17 439.80 436.30C442.63 435.43 445.42 434.75 448.20 433.80C450.98 432.85 453.72 431.60 456.50 430.60C459.28 429.60 462.10 428.88 464.90 427.80C467.70 426.72 470.68 425.60 473.30 424.10C475.92 422.60 477.87 420.55 480.60 418.80C483.33 417.05 486.82 415.37 489.70 413.60C492.58 411.83 495.17 410.33 497.90 408.20C500.63 406.07 503.22 403.13 506.10 400.80C508.98 398.47 512.32 396.38 515.20 394.20C518.08 392.02 520.58 389.98 523.40 387.70C526.22 385.42 529.32 383.18 532.10 380.50C534.88 377.82 537.32 374.42 540.10 371.60C542.88 368.78 546.18 366.40 548.80 363.60C551.42 360.80 553.07 357.73 555.80 354.80C558.53 351.87 562.27 348.87 565.20 346.00C568.13 343.13 571.40 339.70 573.40 337.60C575.40 335.50 575.73 334.52 577.20 333.40C578.67 332.28 580.32 332.10 582.20 330.90C584.08 329.70 587.45 326.98 588.50 326.20L590.40 354.40L590.60 400.00L590.70 429.60" fill="none" stroke="#000000" stroke-width="2.5" stroke-linejoin="round" stroke-linecap="butt"/>
<rect x="370.00" y="451.50" width="4.60" height="4.60" fill="#008000"/>
<rect x="378.70" y="451.00" width="4.60" height="4.60" fill="#008000"/>
<rect x="387.10" y="449.70" width="4.60" height="4.60" fill="#008000"/>
<rect x="395.60" y="447.70" width="4.60" height="4.60" fill="#008000"/>
<rect x="403.60" y="445.30" width="4.60" height="4.60" fill="#008000"/>
<rect x="412.30" y="442.30" width="4.60" height="4.60" fill="#008000"/>
<rect x="420.40" y="439.00" width="4.60" height="4.60" fill="#008000"/>
<rect x="428.90" y="436.70" width="4.60" height="4.60" fill="#008000"/>
<rect x="437.50" y="434.00" width="4.60" height="4.60" fill="#008000"/>
<rect x="445.90" y="431.50" width="4.60" height="4.60" fill="#008000"/>
<rect x="454.20" y="428.30" width="4.60" height="4.60" fill="#008000"/>
<rect x="462.60" y="425.50" width="4.60" height="4.60" fill="#008000"/>
<rect x="471.00" y="421.80" width="4.60" height="4.60" fill="#008000"/>
<rect x="478.30" y="416.50" width="4.60" height="4.60" fill="#008000"/>
<rect x="487.40" y="411.30" width="4.60" height="4.60" fill="#008000"/>
<rect x="495.60" y="405.90" width="4.60" height="4.60" fill="#008000"/>
<rect x="503.80" y="398.50" width="4.60" height="4.60" fill="#008000"/>
<rect x="512.90" y="391.90" width="4.60" height="4.60" fill="#008000"/>
<rect x="521.10" y="385.40" width="4.60" height="4.60" fill="#008000"/>
<rect x="529.80" y="378.20" width="4.60" height="4.60" fill="#008000"/>
<rect x="537.80" y="369.30" width="4.60" height="4.60" fill="#008000"/>
<rect x="546.50" y="361.30" width="4.60" height="4.60" fill="#008000"/>
<rect x="553.50" y="352.50" width="4.60" height="4.60" fill="#008000"/>
<rect x="562.90" y="343.70" width="4.60" height="4.60" fill="#008000"/>
<rect x="571.10" y="335.30" width="4.60" height="4.60" fill="#008000"/>
<rect x="579.90" y="328.60" width="4.60" height="4.60" fill="#008000"/>
<rect x="588.10" y="352.10" width="4.60" height="4.60" fill="#008000"/>
<path d="M372.30 452.50C373.75 452.12 378.15 450.98 381.00 450.20C383.85 449.42 386.58 448.77 389.40 447.80C392.22 446.83 395.15 445.52 397.90 444.40C400.65 443.28 403.13 442.17 405.90 441.10C408.67 440.03 411.68 439.15 414.50 438.00C417.32 436.85 420.05 435.53 422.80 434.20C425.55 432.87 428.25 431.55 431.00 430.00C433.75 428.45 436.53 426.63 439.30 424.90C442.07 423.17 444.82 421.35 447.60 419.60C450.38 417.85 453.18 416.27 456.00 414.40C458.82 412.53 461.63 410.57 464.50 408.40C467.37 406.23 470.35 403.88 473.20 401.40C476.05 398.92 478.82 396.15 481.60 393.50C484.38 390.85 487.08 388.38 489.90 385.50C492.72 382.62 495.62 379.33 498.50 376.20C501.38 373.07 504.42 370.20 507.20 366.70C509.98 363.20 512.42 358.67 515.20 355.20C517.98 351.73 521.12 348.97 523.90 345.90C526.68 342.83 529.13 339.58 531.90 336.80C534.67 334.02 537.77 331.65 540.50 329.20C543.23 326.75 545.93 324.67 548.30 322.10C550.67 319.53 553.63 315.18 554.70 313.80L556.40 329.20L557.50 380.00L558.70 429.30" fill="none" stroke="#ff0000" stroke-width="2.5" stroke-linejoin="round" stroke-linecap="butt"/>
<circle cx="372.30" cy="452.50" r="2.80" fill="#ff0000"/>
<circle cx="381.00" cy="450.20" r="2.80" fill="#ff0000"/>
<circle cx="389.40" cy="447.80" r="2.80" fill="#ff0000"/>
<circle cx="397.90" cy="444.40" r="2.80" fill="#ff0000"/>
<circle cx="405.90" cy="441.10" r="2.80" fill="#ff0000"/>
<circle cx="414.50" cy="438.00" r="2.80" fill="#ff0000"/>
<circle cx="422.80" cy="434.20" r="2.80" fill="#ff0000"/>
<circle cx="431.00" cy="430.00" r="2.80" fill="#ff0000"/>
<circle cx="439.30" cy="424.90" r="2.80" fill="#ff0000"/>
<circle cx="447.60" cy="419.60" r="2.80" fill="#ff0000"/>
<circle cx="456.00" cy="414.40" r="2.80" fill="#ff0000"/>
<circle cx="464.50" cy="408.40" r="2.80" fill="#ff0000"/>
<circle cx="473.20" cy="401.40" r="2.80" fill="#ff0000"/>
<circle cx="481.60" cy="393.50" r="2.80" fill="#ff0000"/>
<circle cx="489.90" cy="385.50" r="2.80" fill="#ff0000"/>
<circle cx="498.50" cy="376.20" r="2.80" fill="#ff0000"/>
<circle cx="507.20" cy="366.70" r="2.80" fill="#ff0000"/>
<circle cx="515.20" cy="355.20" r="2.80" fill="#ff0000"/>
<circle cx="523.90" cy="345.90" r="2.80" fill="#ff0000"/>
<circle cx="531.90" cy="336.80" r="2.80" fill="#ff0000"/>
<circle cx="540.50" cy="329.20" r="2.80" fill="#ff0000"/>
<circle cx="548.30" cy="322.10" r="2.80" fill="#ff0000"/>
<circle cx="556.40" cy="329.20" r="2.80" fill="#ff0000"/>
<path d="M372.50 451.90C373.92 451.30 378.18 449.63 381.00 448.30C383.82 446.97 386.58 445.45 389.40 443.90C392.22 442.35 395.15 440.43 397.90 439.00C400.65 437.57 403.13 436.60 405.90 435.30C408.67 434.00 411.67 432.75 414.50 431.20C417.33 429.65 420.12 427.67 422.90 426.00C425.68 424.33 428.38 423.00 431.20 421.20C434.02 419.40 436.97 417.33 439.80 415.20C442.63 413.07 445.37 410.70 448.20 408.40C451.03 406.10 453.97 403.92 456.80 401.40C459.63 398.88 462.43 396.13 465.20 393.30C467.97 390.47 470.67 387.32 473.40 384.40C476.13 381.48 478.85 378.62 481.60 375.80C484.35 372.98 487.08 370.40 489.90 367.50C492.72 364.60 495.62 361.28 498.50 358.40C501.38 355.52 504.42 352.72 507.20 350.20C509.98 347.68 512.42 345.17 515.20 343.30C517.98 341.43 521.02 341.17 523.90 339.00C526.78 336.83 529.73 333.20 532.50 330.30C535.27 327.40 538.83 323.27 540.50 321.60C542.17 319.93 542.17 320.52 542.50 320.30L544.30 321.50L545.50 328.00L546.30 380.00L548.10 429.30" fill="none" stroke="#0000ff" stroke-width="2.5" stroke-linejoin="round" stroke-linecap="butt"/>
<path d="M372.50 448.30L375.92 454.06L369.08 454.06Z" fill="#0000ff"/>
<path d="M381.00 444.70L384.42 450.46L377.58 450.46Z" fill="#0000ff"/>
<path d="M389.40 440.30L392.82 446.06L385.98 446.06Z" fill="#0000ff"/>
<path d="M397.90 435.40L401.32 441.16L394.48 441.16Z" fill="#0000ff"/>
<path d="M405.90 431.70L409.32 437.46L402.48 437.46Z" fill="#0000ff"/>
<path d="M414.50 427.60L417.92 433.36L411.08 433.36Z" fill="#0000ff"/>
<path d="M422.90 422.40L426.32 428.16L419.48 428.16Z" fill="#0000ff"/>
<path d="M431.20 417.60L434.62 423.36L427.78 423.36Z" fill="#0000ff"/>
<path d="M439.80 411.60L443.22 417.36L436.38 417.36Z" fill="#0000ff"/>
<path d="M448.20 404.80L451.62 410.56L444.78 410.56Z" fill="#0000ff"/>
<path d="M456.80 397.80L460.22 403.56L453.38 403.56Z" fill="#0000ff"/>
<path d="M465.20 389.70L468.62 395.46L461.78 395.46Z" fill="#0000ff"/>
<path d="M473.40 380.80L476.82 386.56L469.98 386.56Z" fill="#0000ff"/>
<path d="M481.60 372.20L485.02 377.96L478.18 377.96Z" fill="#0000ff"/>
<path d="M489.90 363.90L493.32 369.66L486.48 369.66Z" fill="#0000ff"/>
<path d="M498.50 354.80L501.92 360.56L495.08 360.56Z" fill="#0000ff"/>
<path d="M507.20 346.60L510.62 352.36L503.78 352.36Z" fill="#0000ff"/>
<path d="M515.20 339.70L518.62 345.46L511.78 345.46Z" fill="#0000ff"/>
<path d="M523.90 335.40L527.32 341.16L520.48 341.16Z" fill="#0000ff"/>
<path d="M532.50 326.70L535.92 332.46L529.08 332.46Z" fill="#0000ff"/>
<path d="M540.50 318.00L543.92 323.76L537.08 323.76Z" fill="#0000ff"/>
<path d="M547.90 424.80L551.32 430.56L544.48 430.56Z" fill="#0000ff"/>
<path d="M372.50 454.30C373.87 454.08 377.97 453.48 380.70 453.00C383.43 452.52 386.12 452.00 388.90 451.40C391.68 450.80 394.57 450.15 397.40 449.40C400.23 448.65 403.08 448.05 405.90 446.90C408.72 445.75 411.48 444.02 414.30 442.50C417.12 440.98 420.02 439.50 422.80 437.80C425.58 436.10 428.30 434.18 431.00 432.30C433.70 430.42 436.25 428.58 439.00 426.50C441.75 424.42 444.67 422.10 447.50 419.80C450.33 417.50 453.28 415.42 456.00 412.70C458.72 409.98 461.15 406.58 463.80 403.50C466.45 400.42 469.12 397.28 471.90 394.20C474.68 391.12 477.62 388.07 480.50 385.00C483.38 381.93 486.32 378.55 489.20 375.80C492.08 373.05 494.92 370.85 497.80 368.50C500.68 366.15 503.97 363.87 506.50 361.70C509.03 359.53 511.08 357.30 513.00 355.50C514.92 353.70 517.17 351.67 518.00 350.90L520.50 356.00L521.70 375.00L522.70 432.60" fill="none" stroke="#ff00ff" stroke-width="2.5" stroke-linejoin="round" stroke-linecap="butt"/>
<path d="M372.50 457.90L375.92 452.14L369.08 452.14Z" fill="#ff00ff"/>
<path d="M388.90 455.00L392.32 449.24L385.48 449.24Z" fill="#ff00ff"/>
<path d="M405.90 450.50L409.32 444.74L402.48 444.74Z" fill="#ff00ff"/>
<path d="M422.80 441.40L426.22 435.64L419.38 435.64Z" fill="#ff00ff"/>
<path d="M439.00 430.10L442.42 424.34L435.58 424.34Z" fill="#ff00ff"/>
<path d="M456.00 416.30L459.42 410.54L452.58 410.54Z" fill="#ff00ff"/>
<path d="M471.90 397.80L475.32 392.04L468.48 392.04Z" fill="#ff00ff"/>
<path d="M489.20 379.40L492.62 373.64L485.78 373.64Z" fill="#ff00ff"/>
<path d="M506.50 365.30L509.92 359.54L503.08 359.54Z" fill="#ff00ff"/>
<path d="M522.70 410.50L526.12 404.74L519.28 404.74Z" fill="#ff00ff"/>
<rect x="77.8" y="20.2" width="69.8" height="83.0" fill="#fff" stroke="#999" stroke-width="1"/>
<path d="M85.40 36.40H99.80M106.80 36.40H121.20" stroke="#ff0000" stroke-width="2.3"/>
<circle cx="103.30" cy="36.40" r="2.66" fill="#ff0000"/>
<text x="124.80" y="41.80" font-family='"Liberation Serif", serif' font-size="15">B1</text>
<path d="M85.40 55.60H99.80M106.80 55.60H121.20" stroke="#008000" stroke-width="2.3"/>
<rect x="101.11" y="53.41" width="4.37" height="4.37" fill="#008000"/>
<text x="124.80" y="61.00" font-family='"Liberation Serif", serif' font-size="15">B3</text>
<path d="M85.40 74.80H99.80M106.80 74.80H121.20" stroke="#0000ff" stroke-width="2.3"/>
<path d="M103.30 71.38L106.55 76.85L100.05 76.85Z" fill="#0000ff"/>
<text x="124.80" y="80.20" font-family='"Liberation Serif", serif' font-size="15">T1</text>
<path d="M85.40 94.00H99.80M106.80 94.00H121.20" stroke="#ff00ff" stroke-width="2.3"/>
<path d="M103.30 97.42L106.55 91.95L100.05 91.95Z" fill="#ff00ff"/>
<text x="124.80" y="99.40" font-family='"Liberation Serif", serif' font-size="15">D1</text>
<rect x="395.0" y="20.3" width="69.8" height="83.0" fill="#fff" stroke="#999" stroke-width="1"/>
<path d="M402.60 36.50H417.00M424.00 36.50H438.40" stroke="#ff0000" stroke-width="2.3"/>
<circle cx="420.50" cy="36.50" r="2.66" fill="#ff0000"/>
<text x="442.00" y="41.90" font-family='"Liberation Serif", serif' font-size="15">B1</text>
<path d="M402.60 55.70H417.00M424.00 55.70H438.40" stroke="#008000" stroke-width="2.3"/>
<rect x="418.31" y="53.52" width="4.37" height="4.37" fill="#008000"/>
<text x="442.00" y="61.10" font-family='"Liberation Serif", serif' font-size="15">B3</text>
<path d="M402.60 74.90H417.00M424.00 74.90H438.40" stroke="#0000ff" stroke-width="2.3"/>
<path d="M420.50 71.48L423.75 76.95L417.25 76.95Z" fill="#0000ff"/>
<text x="442.00" y="80.30" font-family='"Liberation Serif", serif' font-size="15">T1</text>
<path d="M402.60 94.10H417.00M424.00 94.10H438.40" stroke="#ff00ff" stroke-width="2.3"/>
<path d="M420.50 97.52L423.75 92.05L417.25 92.05Z" fill="#ff00ff"/>
<text x="442.00" y="99.50" font-family='"Liberation Serif", serif' font-size="15">D1</text>
<rect x="77.7" y="306.5" width="69.8" height="83.0" fill="#fff" stroke="#999" stroke-width="1"/>
<path d="M85.30 322.70H99.70M106.70 322.70H121.10" stroke="#ff0000" stroke-width="2.3"/>
<circle cx="103.20" cy="322.70" r="2.66" fill="#ff0000"/>
<text x="124.70" y="328.10" font-family='"Liberation Serif", serif' font-size="15">B1</text>
<path d="M85.30 341.90H99.70M106.70 341.90H121.10" stroke="#008000" stroke-width="2.3"/>
<rect x="101.01" y="339.71" width="4.37" height="4.37" fill="#008000"/>
<text x="124.70" y="347.30" font-family='"Liberation Serif", serif' font-size="15">B3</text>
<path d="M85.30 361.10H99.70M106.70 361.10H121.10" stroke="#0000ff" stroke-width="2.3"/>
<path d="M103.20 357.68L106.45 363.15L99.95 363.15Z" fill="#0000ff"/>
<text x="124.70" y="366.50" font-family='"Liberation Serif", serif' font-size="15">T1</text>
<path d="M85.30 380.30H99.70M106.70 380.30H121.10" stroke="#ff00ff" stroke-width="2.3"/>
<path d="M103.20 383.72L106.45 378.25L99.95 378.25Z" fill="#ff00ff"/>
<text x="124.70" y="385.70" font-family='"Liberation Serif", serif' font-size="15">D1</text>
<rect x="385.4" y="306.5" width="69.8" height="83.0" fill="#fff" stroke="#999" stroke-width="1"/>
<path d="M393.00 322.70H407.40M414.40 322.70H428.80" stroke="#ff0000" stroke-width="2.3"/>
<circle cx="410.90" cy="322.70" r="2.66" fill="#ff0000"/>
<text x="432.40" y="328.10" font-family='"Liberation Serif", serif' font-size="15">B1</text>
<path d="M393.00 341.90H407.40M414.40 341.90H428.80" stroke="#000000" stroke-width="2.3"/>
<rect x="408.71" y="339.71" width="4.37" height="4.37" fill="#008000"/>
<text x="432.40" y="347.30" font-family='"Liberation Serif", serif' font-size="15">B3</text>
<path d="M393.00 361.10H407.40M414.40 361.10H428.80" stroke="#0000ff" stroke-width="2.3"/>
<path d="M410.90 357.68L414.15 363.15L407.65 363.15Z" fill="#0000ff"/>
<text x="432.40" y="366.50" font-family='"Liberation Serif", serif' font-size="15">T3</text>
<path d="M393.00 380.30H407.40M414.40 380.30H428.80" stroke="#ff00ff" stroke-width="2.3"/>
<path d="M410.90 383.72L414.15 378.25L407.65 378.25Z" fill="#ff00ff"/>
<text x="432.40" y="385.70" font-family='"Liberation Serif", serif' font-size="15">D1</text>
<text x="161.85" y="231.60" font-family='"Liberation Serif", serif' font-size="18.35" text-anchor="middle">Strain (mm)</text>
<text transform="translate(12.80 98.20) rotate(-90)" x="0" y="0" font-family='"Liberation Serif", serif' font-size="18" text-anchor="middle">Stress (Mpa)</text>
<text x="125.20" y="261.90" font-family='"Liberation Serif", serif' font-size="15" font-weight="bold" letter-spacing="0">(a) 25°C</text>
<text x="478.90" y="231.60" font-family='"Liberation Serif", serif' font-size="18.35" text-anchor="middle">Strain (mm)</text>
<text transform="translate(329.90 98.20) rotate(-90)" x="0" y="0" font-family='"Liberation Serif", serif' font-size="18" text-anchor="middle">Stress (Mpa)</text>
<text x="442.30" y="262.00" font-family='"Liberation Serif", serif' font-size="15" font-weight="bold" letter-spacing="0">(b) 50°C</text>
<text x="161.85" y="517.60" font-family='"Liberation Serif", serif' font-size="18.35" text-anchor="middle">Strain (mm)</text>
<text transform="translate(13.10 384.45) rotate(-90)" x="0" y="0" font-family='"Liberation Serif", serif' font-size="18" text-anchor="middle">Stress (Mpa)</text>
<text x="105.30" y="551.90" font-family='"Liberation Serif", serif' font-size="15" font-weight="bold" letter-spacing="0.18">(c) 100°C</text>
<text x="478.75" y="517.60" font-family='"Liberation Serif", serif' font-size="18.35" text-anchor="middle">Strain (mm)</text>
<text transform="translate(330.10 384.45) rotate(-90)" x="0" y="0" font-family='"Liberation Serif", serif' font-size="18" text-anchor="middle">Stress (Mpa)</text>
<text x="422.50" y="552.00" font-family='"Liberation Serif", serif' font-size="15" font-weight="bold" letter-spacing="0.25">(d) 150°C</text>
</svg>
</body></html>
